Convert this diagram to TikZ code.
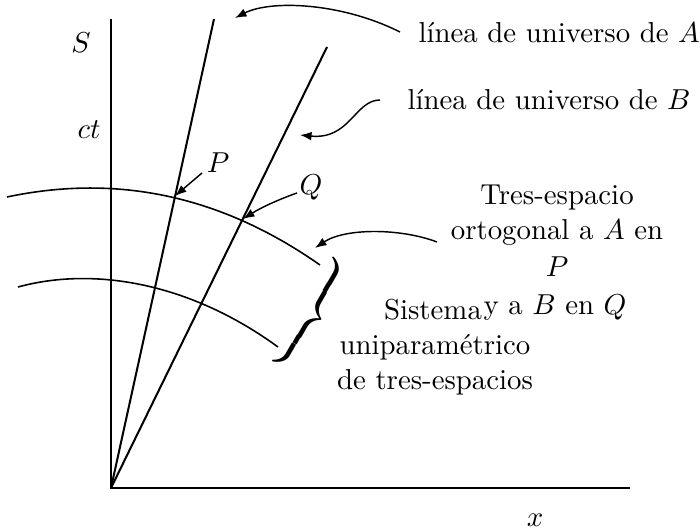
\documentclass[tikz,border=0pt]{standalone}
\usetikzlibrary{arrows.meta}
\begin{document}
\begin{tikzpicture}[x=0.347pt,y=-0.347pt,
  axisline/.style={line width=0.7pt},
  spaceline/.style={line width=0.55pt},
  pointer/.style={line width=0.5pt,-{Latex[length=4pt,width=3pt]}},
  lbl/.style={inner sep=0pt,anchor=base,font=\fontsize{10}{12}\selectfont}]
\useasboundingbox (0,0) rectangle (700,532);
% axes and world lines
\coordinate (O) at (111,488);
\coordinate (Vt) at (111,19);
\coordinate (Hx) at (630,488);
\coordinate (Atop) at (214,19);
\coordinate (Btop) at (327,47);
\draw[axisline] (Vt) -- (O) -- (Hx);
\draw[axisline] (O) -- (Atop);
\draw[axisline] (O) -- (Btop);
% three-spaces
\coordinate (P) at (175,196);
\coordinate (Q) at (243,219);
\coordinate (u0) at (7,197);
\coordinate (u1) at (320,265);
\coordinate (w0) at (18,287);
\coordinate (w1) at (278,347);
\draw[spaceline] (u0) .. controls (111,175) and (216,192) .. (u1);
\draw[spaceline] (w0) .. controls (95,266) and (191,283.5) .. (w1);
% brace
{\delimitershortfall=0pt \delimiterfactor=1000
\node[rotate=-30,inner sep=0pt] (brace) at (310,313) {\scalebox{1.35}[1]{$\left.\vrule height 21pt depth 16pt width 0pt\right\}$}};}
% labels
\node[lbl,anchor=center] (S) at (81,43) {$S$};
\node[lbl,anchor=center] (ct) at (89,130) {$ct$};
\node[lbl,anchor=center] (xl) at (535,520) {$x$};
\node[lbl,anchor=center] (Pl) at (218,163) {$P$};
\node[lbl,anchor=center] (Ql) at (311,187) {$Q$};
\node[lbl,anchor=base west] (la) at (418,43) {línea de universo de $A$};
\node[lbl,anchor=base west] (lb) at (407,110) {línea de universo de $B$};
\node[lbl] (t1) at (557,205) {Tres-espacio};
\node[lbl] (t2) at (557,240) {ortogonal a $A$ en};
\node[lbl] (t3) at (557,277) {$P$};
\node[lbl] (t4) at (555,315) {y a $B$ en $Q$};
\node[lbl] (s1) at (433,320) {Sistema};
\node[lbl] (s2) at (435,355) {uniparamétrico};
\node[lbl] (s3) at (435,390) {de tres-espacios};
% pointers
\coordinate (tA) at (400,32);
\coordinate (hA) at (235,18);
\coordinate (tB) at (380,100);
\coordinate (hB) at (300,135);
\coordinate (tP) at (202,173);
\coordinate (tQ) at (297,193);
\coordinate (tT) at (437,242);
\coordinate (hT) at (315,248);
\draw[pointer] (tA) .. controls (340,2) and (270,0) .. (hA);
\draw[pointer] (tB) .. controls (355,100) and (350,140) .. (hB);
\draw[pointer] (tP) -- (P);
\draw[pointer] (tQ) .. controls (280,199) and (262,207) .. (Q);
\draw[pointer] (tT) .. controls (400,228) and (345,228) .. (hT);
\end{tikzpicture}
\end{document}
